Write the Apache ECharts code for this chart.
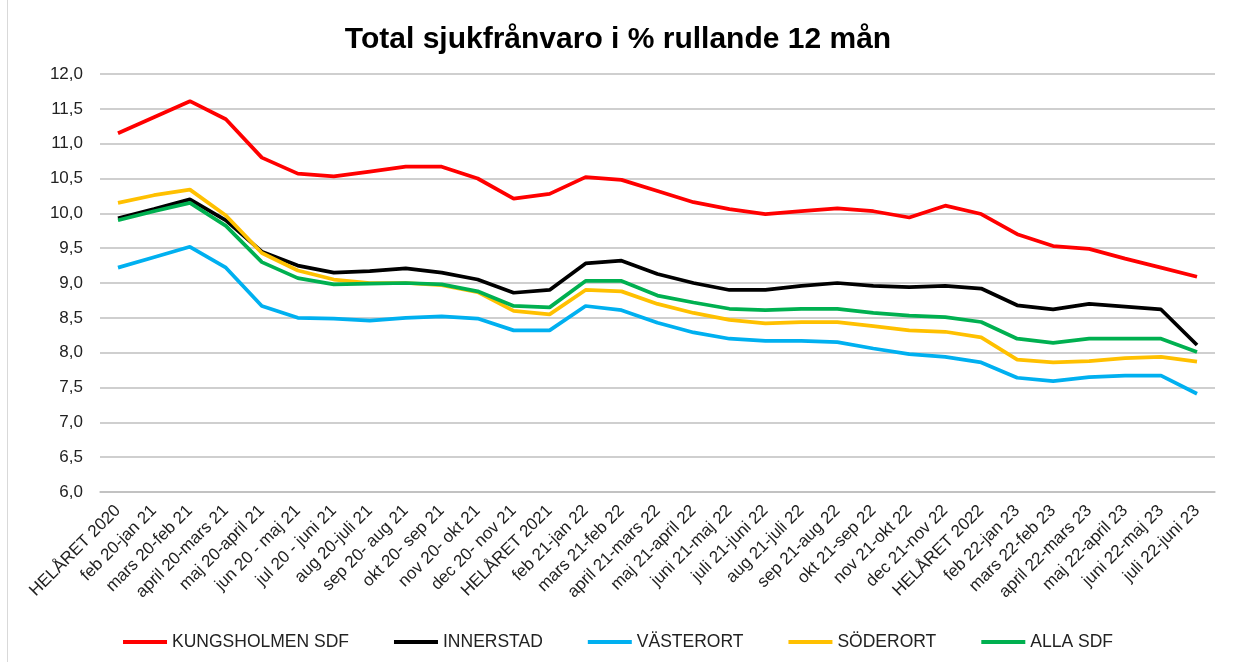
<!DOCTYPE html>
<html lang="sv">
<head>
<meta charset="UTF-8">
<title>Total sjukfrånvaro</title>
<script src="https://cdn.jsdelivr.net/npm/echarts@6/dist/echarts.min.js"></script>
<style>
  html, body { margin: 0; padding: 0; background: #fff; }
  #wrap { position: relative; width: 1236px; height: 662px; }
  #main { width: 1236px; height: 662px; }
  #frame { position: absolute; left: 7px; top: 0; right: 0; bottom: 0; border-left: 1px solid #d9d9d9; pointer-events: none; }
</style>
</head>
<body>
<div id="wrap">
  <div id="main"></div>
  <div id="frame"></div>
</div>
<script>
var categories = [
    'HELÅRET 2020', 'feb 20-jan 21', 'mars 20-feb 21', 'april 20-mars 21', 'maj 20-april 21',
    'jun 20 - maj 21', 'jul 20 - juni 21', 'aug 20-juli 21', 'sep 20- aug 21', 'okt 20- sep 21',
    'nov 20- okt 21', 'dec 20- nov 21', 'HELÅRET 2021', 'feb 21-jan 22', 'mars 21-feb 22',
    'april 21-mars 22', 'maj 21-april 22', 'juni 21-maj 22', 'juli 21-juni 22', 'aug 21-juli 22',
    'sep 21-aug 22', 'okt 21-sep 22', 'nov 21-okt 22', 'dec 21-nov 22', 'HELÅRET 2022',
    'feb 22-jan 23', 'mars 22-feb 23', 'april 22-mars 23', 'maj 22-april 23', 'juni 22-maj 23',
    'juli 22-juni 23'
];

var kungsholmen = [11.15, 11.38, 11.61, 11.35, 10.80, 10.57, 10.53, 10.60, 10.67, 10.67,
    10.50, 10.21, 10.28, 10.52, 10.48, 10.32, 10.16, 10.06, 9.99, 10.03,
    10.07, 10.03, 9.94, 10.11, 9.99, 9.70, 9.53, 9.49, 9.35, 9.22, 9.09];
var innerstad = [9.93, 10.06, 10.20, 9.90, 9.45, 9.25, 9.15, 9.17, 9.21, 9.15,
    9.05, 8.86, 8.90, 9.28, 9.32, 9.13, 9.00, 8.90, 8.90, 8.96,
    9.00, 8.96, 8.94, 8.96, 8.92, 8.68, 8.62, 8.70, 8.66, 8.62, 8.11];
var vasterort = [9.22, 9.37, 9.52, 9.22, 8.67, 8.50, 8.49, 8.46, 8.50, 8.52,
    8.49, 8.32, 8.32, 8.67, 8.61, 8.43, 8.29, 8.20, 8.17, 8.17,
    8.15, 8.06, 7.98, 7.94, 7.86, 7.64, 7.59, 7.65, 7.67, 7.67, 7.41];
var soderort = [10.15, 10.26, 10.34, 9.97, 9.43, 9.18, 9.05, 9.00, 9.00, 8.97,
    8.87, 8.60, 8.55, 8.90, 8.88, 8.70, 8.57, 8.47, 8.42, 8.44,
    8.44, 8.38, 8.32, 8.30, 8.22, 7.90, 7.86, 7.88, 7.92, 7.94, 7.87];
var allaSdf = [9.90, 10.03, 10.15, 9.82, 9.30, 9.07, 8.98, 8.99, 9.00, 8.98,
    8.88, 8.67, 8.65, 9.03, 9.03, 8.82, 8.72, 8.63, 8.61, 8.63,
    8.63, 8.57, 8.53, 8.51, 8.44, 8.20, 8.14, 8.20, 8.20, 8.20, 8.01];

var myChart = echarts.init(document.getElementById('main'));

function lineSerie(name, data, color) {
    return {
        name: name,
        type: 'line',
        data: data,
        showSymbol: false,
        symbol: 'none',
        lineStyle: { width: 3.75, color: color },
        itemStyle: { color: color }
    };
}

var option = {
    animation: false,
    textStyle: { fontFamily: 'Liberation Sans, Arial, sans-serif' },
    title: {
        text: 'Total sjukfrånvaro i % rullande 12 mån',
        left: 'center',
        top: 20,
        textStyle: { fontSize: 30, fontWeight: 'bold', color: '#000' }
    },
    legend: {
        top: 628,
        left: 'center',
        itemGap: 45,
        itemWidth: 44,
        itemHeight: 4,
        icon: 'rect',
        textStyle: { fontSize: 17.5, color: '#222' },
        data: ['KUNGSHOLMEN SDF', 'INNERSTAD', 'VÄSTERORT', 'SÖDERORT', 'ALLA SDF']
    },
    grid: { left: 100, right: 21, top: 74, bottom: 170, containLabel: false },
    xAxis: {
        type: 'category',
        data: categories,
        boundaryGap: true,
        axisLine: { lineStyle: { color: '#bfbfbf', width: 1.5 } },
        axisTick: { show: false },
        axisLabel: { interval: 0, rotate: 45, fontSize: 17, color: '#222', margin: 16 }
    },
    yAxis: {
        type: 'value',
        min: 6,
        max: 12,
        interval: 0.5,
        axisLine: { show: false },
        axisTick: { show: false },
        splitLine: { lineStyle: { color: '#bfbfbf', width: 1.5 } },
        axisLabel: {
            fontSize: 17,
            color: '#222',
            margin: 17,
            formatter: function (v) { return v.toFixed(1).replace('.', ','); }
        }
    },
    series: [
        lineSerie('KUNGSHOLMEN SDF', kungsholmen, '#ff0000'),
        lineSerie('INNERSTAD', innerstad, '#000000'),
        lineSerie('VÄSTERORT', vasterort, '#00b0f0'),
        lineSerie('SÖDERORT', soderort, '#ffc000'),
        lineSerie('ALLA SDF', allaSdf, '#00b050')
    ]
};

myChart.setOption(option);
</script>
</body>
</html>
